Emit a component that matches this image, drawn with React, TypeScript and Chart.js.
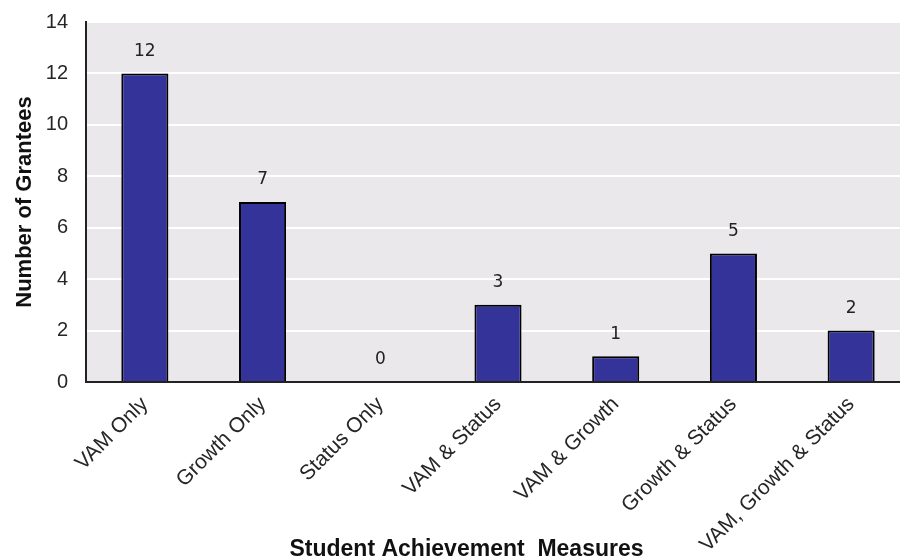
import React, { useEffect, useRef } from "react";
import { Chart, registerables } from "chart.js";

Chart.register(...registerables);

// Student achievement measure combinations used by grantees
const categories = [
  "VAM Only",
  "Growth Only",
  "Status Only",
  "VAM & Status",
  "VAM & Growth",
  "Growth & Status",
  "VAM, Growth & Status",
];
const granteeCounts = [12, 7, 0, 3, 1, 5, 2];

const yMin = 0;
const yMax = 14;
const yStep = 2;

const xTitle = "Student Achievement  Measures";
const yTitle = "Number of Grantees";

const SANS = "'Liberation Sans', Arial, sans-serif";
const LABEL_FONT = "'DejaVu Sans', Verdana, sans-serif";

const CANVAS_W = 933;
const CANVAS_H = 558;

// Grey plot area behind the bars
const plotBackground = {
  id: "plotBackground",
  beforeDraw(chart: any) {
    const { ctx, chartArea } = chart;
    ctx.save();
    ctx.fillStyle = "#ebe8eb";
    ctx.fillRect(chartArea.left, chartArea.top, chartArea.right - chartArea.left, chartArea.bottom - chartArea.top);
    ctx.restore();
  },
};

// Count printed above every bar
const valueLabels = {
  id: "valueLabels",
  afterDatasetsDraw(chart: any) {
    const { ctx } = chart;
    const meta = chart.getDatasetMeta(0);
    const data = chart.data.datasets[0].data as number[];
    ctx.save();
    ctx.font = `17px ${LABEL_FONT}`;
    ctx.fillStyle = "#222";
    ctx.textAlign = "center";
    ctx.textBaseline = "middle";
    meta.data.forEach((bar: any, i: number) => {
      ctx.fillText(String(data[i]), bar.x, bar.y - 22);
    });
    ctx.restore();
  },
};

// Horizontal axis title, centred on the canvas
const bottomTitle = {
  id: "bottomTitle",
  afterDraw(chart: any) {
    const { ctx } = chart;
    ctx.save();
    ctx.font = `bold 23px ${SANS}`;
    ctx.fillStyle = "#111";
    ctx.textAlign = "center";
    ctx.textBaseline = "alphabetic";
    ctx.fillText(xTitle, chart.width / 2, 556);
    ctx.restore();
  },
};

export default function App() {
  const canvasRef = useRef<HTMLCanvasElement | null>(null);

  useEffect(() => {
    if (!canvasRef.current) return;
    const chart = new Chart(canvasRef.current, {
      type: "bar",
      data: {
        labels: categories,
        datasets: [
          {
            data: granteeCounts,
            backgroundColor: "#333399",
            borderColor: "#000000",
            borderWidth: 2,
            barPercentage: 0.4,
            categoryPercentage: 1,
          },
        ],
      },
      options: {
        animation: false,
        responsive: false,
        maintainAspectRatio: false,
        devicePixelRatio: 1,
        layout: { padding: { top: 22, left: 0, right: 23, bottom: 0 } },
        plugins: {
          legend: { display: false },
          tooltip: { enabled: false },
        },
        scales: {
          x: {
            grid: { display: false, drawTicks: false },
            border: { display: true, color: "#222", width: 2 },
            ticks: {
              autoSkip: false,
              maxRotation: 45,
              minRotation: 45,
              padding: 10,
              color: "#262626",
              font: { family: SANS, size: 21 },
            },
            afterFit(scale: any) {
              scale.height = 176;
            },
          },
          y: {
            min: yMin,
            max: yMax,
            grid: { color: "#ffffff", lineWidth: 2, drawTicks: false },
            border: { display: true, color: "#222", width: 2 },
            ticks: {
              stepSize: yStep,
              padding: 18,
              color: "#262626",
              // single-line labels: a tight line height keeps the top label from pushing the plot down
              font: { family: SANS, size: 20, lineHeight: 0.2 },
            },
            title: {
              display: true,
              text: yTitle,
              color: "#111",
              font: { family: SANS, size: 22, weight: "bold" },
              padding: { top: 12, bottom: 0 },
            },
            afterFit(scale: any) {
              scale.width = 86;
            },
          },
        },
      },
      plugins: [plotBackground, valueLabels, bottomTitle],
    });
    return () => chart.destroy();
  }, []);

  return (
    <div
      style={{
        position: "fixed",
        left: 0,
        top: 0,
        width: 900,
        height: CANVAS_H,
        overflow: "hidden",
        background: "#ffffff",
      }}
    >
      <canvas ref={canvasRef} width={CANVAS_W} height={CANVAS_H} style={{ display: "block" }} />
    </div>
  );
}
